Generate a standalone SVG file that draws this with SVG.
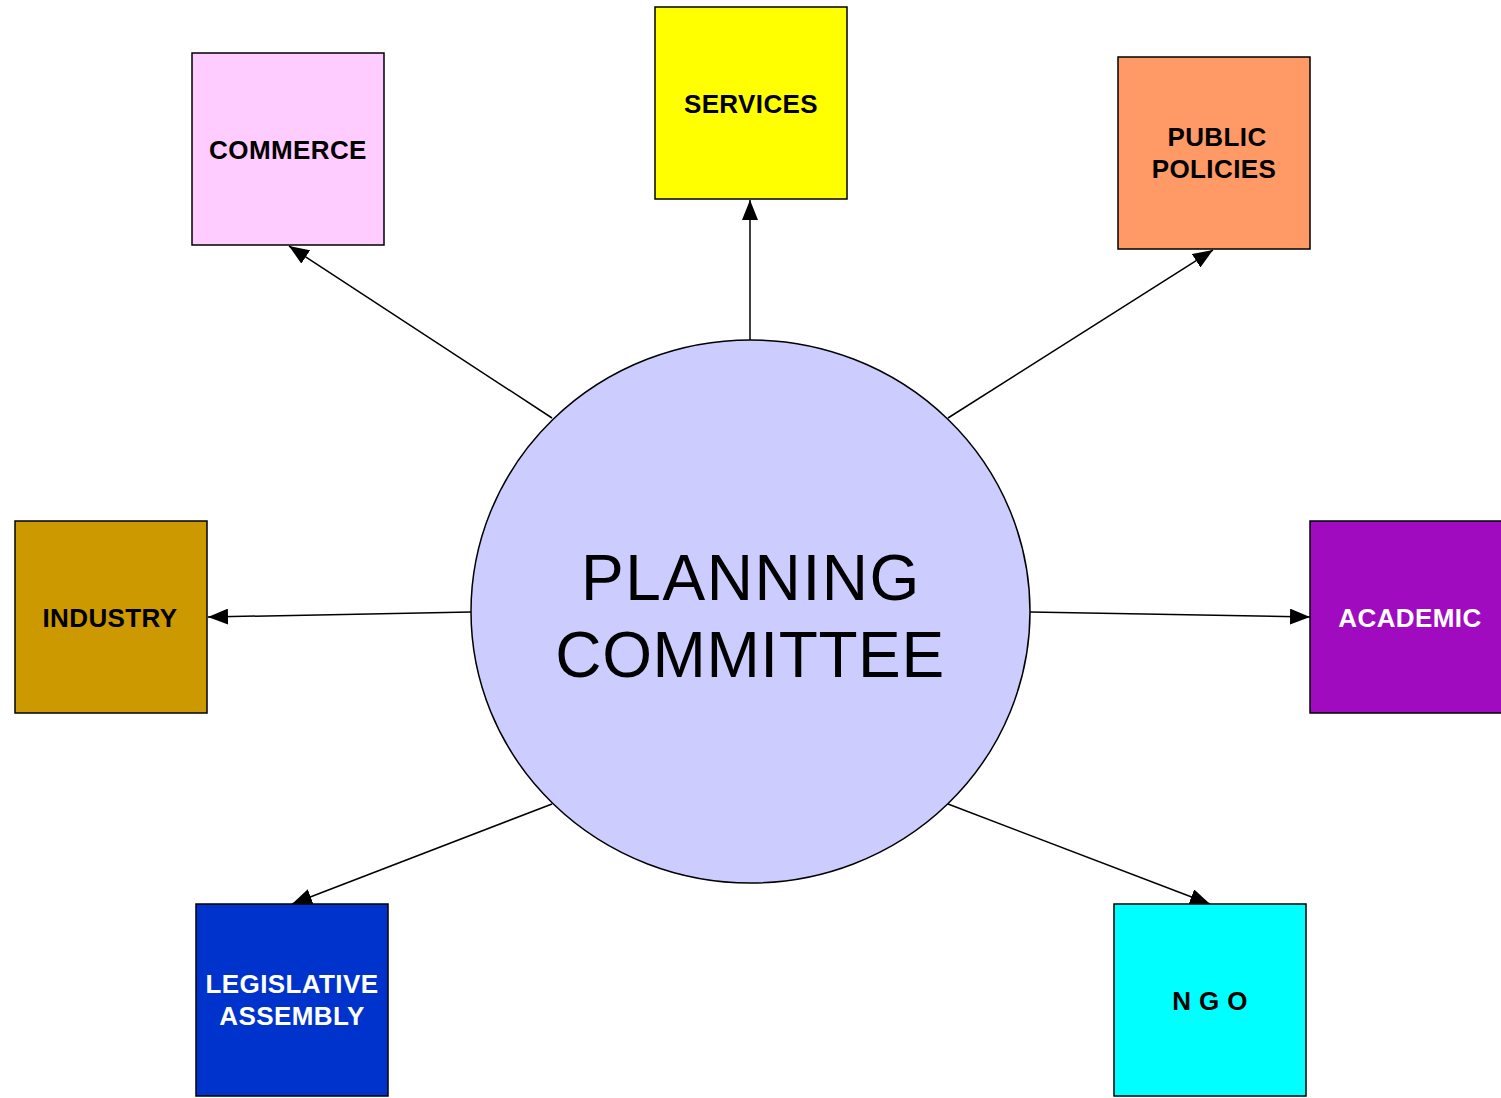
<svg xmlns="http://www.w3.org/2000/svg" width="1501" height="1098" viewBox="0 0 1501 1098">
<defs>
<marker id="arr" viewBox="0 0 20 16" refX="20" refY="8" markerWidth="20" markerHeight="16" markerUnits="userSpaceOnUse" orient="auto">
<path d="M0,0 L20,8 L0,16 Z" fill="#000"/>
</marker>
<style>
.box{stroke:#000;stroke-width:1.5}
.lbl{font-family:"Liberation Sans",Arial,sans-serif;font-weight:bold;font-size:26px;text-anchor:middle;letter-spacing:0.4px}
.conn line{stroke:#000;stroke-width:1.5;marker-end:url(#arr)}
</style>
</defs>
<rect width="1501" height="1098" fill="#fff"/>
<g id="connectors" class="conn">
<line x1="552" y1="418" x2="289" y2="246"/>
<line x1="750" y1="340" x2="750" y2="200"/>
<line x1="948" y1="418" x2="1213" y2="250"/>
<line x1="471" y1="612" x2="208" y2="617"/>
<line x1="1030" y1="612" x2="1310" y2="617"/>
<line x1="552" y1="804" x2="292" y2="904"/>
<line x1="948" y1="804" x2="1210" y2="904"/>
</g>
<g id="planning-committee">
<ellipse cx="750.5" cy="611.5" rx="279.5" ry="271.5" fill="#ccccff" stroke="#000" stroke-width="1.5"/>
<text x="751" y="600" font-family="Liberation Sans,Arial,sans-serif" font-size="64" text-anchor="middle" letter-spacing="1.6">PLANNING</text>
<text x="750" y="677" font-family="Liberation Sans,Arial,sans-serif" font-size="64" text-anchor="middle" letter-spacing="0.6">COMMITTEE</text>
</g>
<g id="commerce">
<rect class="box" x="192" y="53" width="192" height="192" fill="#ffccff"/>
<text class="lbl" x="288" y="159">COMMERCE</text>
</g>
<g id="services">
<rect class="box" x="655" y="7" width="192" height="192" fill="#ffff00"/>
<text class="lbl" x="751" y="113">SERVICES</text>
</g>
<g id="public-policies">
<rect class="box" x="1118" y="57" width="192" height="192" fill="#ff9966"/>
<text class="lbl" x="1217" y="146">PUBLIC</text>
<text class="lbl" x="1214" y="178">POLICIES</text>
</g>
<g id="industry">
<rect class="box" x="15" y="521" width="192" height="192" fill="#cc9900"/>
<text class="lbl" x="110" y="627">INDUSTRY</text>
</g>
<g id="academic">
<rect class="box" x="1310" y="521" width="194" height="192" fill="#a00bc0"/>
<text class="lbl" x="1410" y="627" fill="#fff">ACADEMIC</text>
</g>
<g id="legislative-assembly">
<rect class="box" x="196" y="904" width="192" height="192" fill="#0033cc"/>
<text class="lbl" x="292" y="993" fill="#fff">LEGISLATIVE</text>
<text class="lbl" x="292" y="1025" fill="#fff">ASSEMBLY</text>
</g>
<g id="ngo">
<rect class="box" x="1114" y="904" width="192" height="192" fill="#00ffff"/>
<text class="lbl" x="1210" y="1010">N G O</text>
</g>
</svg>
